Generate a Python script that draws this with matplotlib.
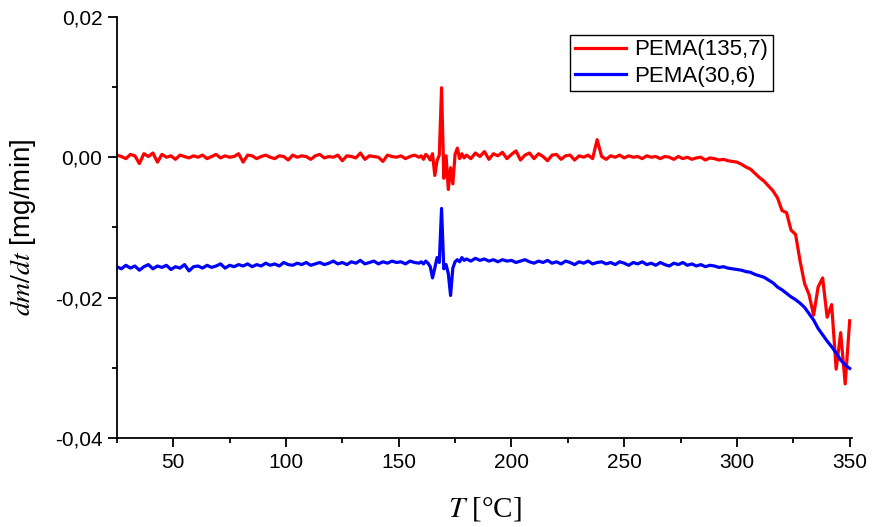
import matplotlib
matplotlib.use("Agg")
import matplotlib.pyplot as plt
from matplotlib.ticker import MultipleLocator, FuncFormatter
import numpy as np

# temperature grid [C]: 2-degree steps, 1-degree steps around the 169 C spike
T = np.concatenate([np.arange(25, 160, 2), np.arange(160, 180, 1), np.arange(180, 351, 2)])

# dm/dt values, in 1e-3 mg/min
red_1 = [0.3, 0.1, -0.2, 0.4, 0.2, -0.9, 0.5, 0.1, 0.6, -0.7,
         0.4, 0.0, 0.2, -0.3, 0.3, 0.1, -0.1, 0.2, 0.0, 0.3,
         -0.2, 0.1, 0.4, -0.1, 0.2, 0.0, 0.1, 0.5, -0.7, 0.3,
         0.2, -0.2, 0.1, 0.3, 0.0, -0.2, 0.2, 0.1, -0.4, 0.3,
         0.0, 0.2, 0.1, -0.3, 0.2, 0.4, -0.1, 0.1, 0.0, 0.3,
         -0.5, 0.2, 0.1, -0.1, 0.6, -0.3, 0.2, 0.1, 0.0, -0.6,
         0.3, 0.1, 0.0, 0.2, -0.2, 0.1, 0.3, 0.0]
red_2 = [0.2, -0.3, 0.4, 0.1, -0.4, 0.5, -2.6, -0.5, 0.3, 9.9,
         -3.0, 0.2, -4.6, -1.5, -3.8, 0.4, 1.3, -0.2, 0.5, -0.1]
red_3 = [0.3, -0.2, 0.6, 0.1, 0.8, -0.3, 0.5, 0.2, 0.7, -0.2,
         0.4, 0.9, -0.4, 0.3, 0.6, -0.2, 0.5, 0.1, -0.5, 0.3,
         0.4, -0.3, 0.2, 0.3, -0.4, 0.2, 0.0, 0.3, -0.2, 2.5,
         0.1, -0.3, 0.2, 0.0, 0.3, -0.1, 0.2, 0.0, 0.1, -0.2,
         0.2, 0.0, 0.1, -0.2, 0.1, 0.0, -0.3, 0.1, -0.2, 0.0,
         -0.3, -0.1, 0.0, -0.4, -0.1, -0.2, -0.4, -0.3, -0.5, -0.6,
         -0.7, -1.0, -1.4, -1.7, -2.3, -2.9, -3.4, -4.1, -4.8, -5.8,
         -7.6, -7.9, -10.4, -11.0, -14.8, -18.0, -19.6, -22.5, -18.5, -17.2,
         -22.8, -21.0, -30.2, -25.0, -32.3, -23.3]

blue_1 = [-15.6, -15.9, -15.4, -15.8, -15.5, -16.1, -15.6, -15.3, -15.9, -15.5,
          -15.7, -15.4, -16.0, -15.6, -15.8, -15.3, -16.2, -15.6, -15.5, -15.8,
          -15.4, -15.7, -15.5, -15.2, -15.8, -15.4, -15.6, -15.3, -15.5, -15.2,
          -15.6, -15.3, -15.5, -15.1, -15.4, -15.2, -15.5, -15.0, -15.3, -15.4,
          -15.1, -15.3, -15.0, -15.4, -15.2, -15.0, -15.3, -15.1, -14.8, -15.2,
          -15.0, -15.3, -14.9, -15.1, -14.7, -15.2, -15.0, -14.8, -15.2, -14.9,
          -15.1, -14.8, -15.0, -14.9, -15.2, -14.8, -15.0, -15.1]
blue_2 = [-14.9, -15.2, -14.8, -15.1, -15.6, -17.2, -15.8, -14.3, -15.0, -7.3,
          -15.9, -15.3, -16.6, -19.7, -15.8, -14.9, -14.6, -14.9, -14.3, -14.7]
blue_3 = [-14.5, -14.8, -14.4, -14.7, -14.5, -14.8, -14.6, -14.9, -14.6, -14.8,
          -14.7, -15.0, -14.8, -14.6, -14.9, -15.1, -14.8, -15.0, -14.7, -15.1,
          -14.9, -15.2, -14.8, -15.0, -15.3, -14.9, -15.1, -14.8, -15.2, -15.0,
          -14.9, -15.2, -15.0, -15.3, -14.9, -15.1, -15.4, -15.0, -15.2, -14.9,
          -15.3, -15.1, -15.4, -15.0, -15.3, -15.5, -15.1, -15.3, -15.0, -15.4,
          -15.2, -15.5, -15.3, -15.6, -15.4, -15.5, -15.7, -15.6, -15.8, -15.9,
          -16.0, -16.1, -16.3, -16.4, -16.7, -16.9, -17.1, -17.5, -17.9, -18.5,
          -18.9, -19.4, -19.9, -20.3, -20.8, -21.4, -22.3, -23.2, -24.4, -25.3,
          -26.2, -27.0, -27.9, -28.9, -29.6, -30.1]

red = np.array(red_1 + red_2 + red_3) * 1e-3
blue = np.array(blue_1 + blue_2 + blue_3) * 1e-3

plt.rcParams['font.family'] = 'Liberation Sans'
plt.rcParams['mathtext.fontset'] = 'stix'

fig = plt.figure(figsize=(8.72, 5.27), dpi=100)
ax = fig.add_axes([0.134, 0.169, 0.843, 0.799])

ax.plot(T, red, color='#ff0000', lw=2.3, label='PEMA(135,7)')
ax.plot(T, blue, color='#0000ff', lw=2.3, label='PEMA(30,6)')

ax.set_xlim(25, 351)
ax.set_ylim(-0.04, 0.02)
ax.xaxis.set_major_locator(MultipleLocator(50))
ax.xaxis.set_minor_locator(MultipleLocator(25))
ax.yaxis.set_major_locator(MultipleLocator(0.02))
ax.yaxis.set_minor_locator(MultipleLocator(0.01))
ax.yaxis.set_major_formatter(FuncFormatter(lambda v, p: f"{v:.2f}".replace('.', ',').replace('\u2212', '-')))

for s in ['top', 'right']:
    ax.spines[s].set_visible(False)
for s in ['left', 'bottom']:
    ax.spines[s].set_linewidth(1.3)
ax.tick_params(which='major', direction='out', length=6.5, width=1.3, labelsize=15, pad=4)
ax.tick_params(which='minor', direction='out', length=3.5, width=1.3)

ax.set_ylabel('$dm/dt$ [mg/min]', fontsize=20, labelpad=12)
ax.set_xlabel('$T$ [°C]', fontsize=21, family='Liberation Serif', labelpad=17)

leg = ax.legend(loc='upper right', bbox_to_anchor=(0.8925, 0.957), borderaxespad=0,
                fontsize=16, handlelength=2.3, handletextpad=0.4, labelspacing=0.25,
                borderpad=0.2, fancybox=False, framealpha=1)
leg.get_frame().set_edgecolor('black')
leg.get_frame().set_linewidth(1.0)

fig.savefig('out.png', dpi=100)
